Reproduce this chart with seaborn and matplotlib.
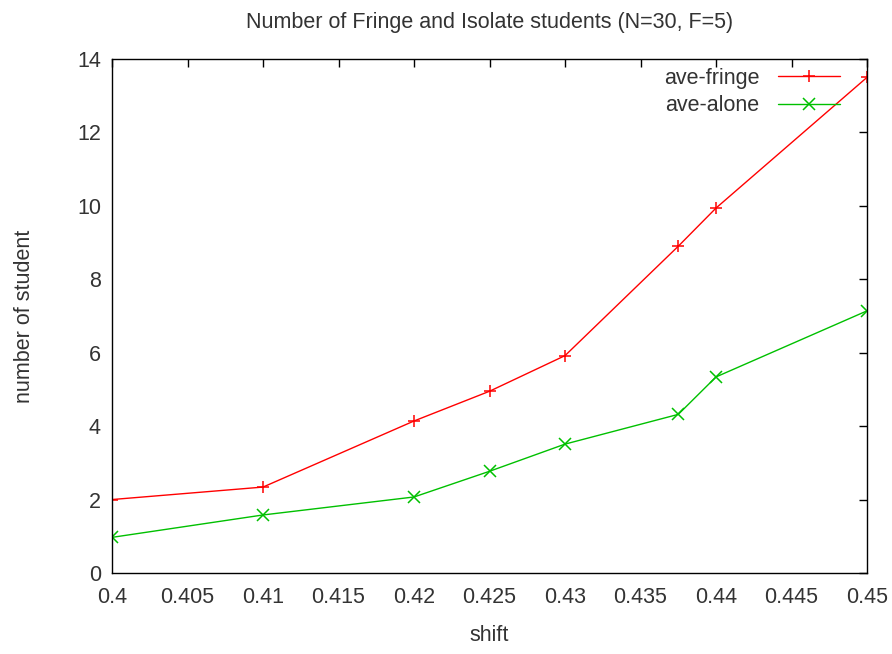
import numpy as np
import pandas as pd
import matplotlib
matplotlib.use("Agg")
import matplotlib.pyplot as plt
import seaborn as sns

shift = [0.4, 0.41, 0.42, 0.425, 0.43, 0.4375, 0.44, 0.45]
ave_fringe = [2.0, 2.34, 4.14, 4.95, 5.92, 8.9, 9.94, 13.5]
ave_alone = [0.97, 1.58, 2.07, 2.77, 3.51, 4.32, 5.34, 7.14]

df = pd.DataFrame({"shift": shift * 2,
                   "value": ave_fringe + ave_alone,
                   "series": ["ave-fringe"] * len(shift) + ["ave-alone"] * len(shift)})

sns.set_style("white")
plt.rcParams['font.family'] = ['Liberation Sans', 'DejaVu Sans']
txt = "#333333"

fig = plt.figure(figsize=(8.92, 6.54), dpi=100)
ax = fig.add_axes([0.1256, 0.1239, 0.972 - 0.1256, 0.9098 - 0.1239])

sns.lineplot(data=df, x="shift", y="value", hue="series", style="series",
             palette={"ave-fringe": "#ff0000", "ave-alone": "#00c000"},
             markers={"ave-fringe": "+", "ave-alone": "x"},
             dashes=False, linewidth=1, markersize=8, legend=False,
             ax=ax)
for ln in ax.lines:
    ln.set_markeredgecolor(ln.get_color())
    ln.set_markeredgewidth(1.1)

ax.set_xlim(0.4, 0.45)
ax.set_ylim(0, 14)
ax.set_xticks(np.arange(0.4, 0.4501, 0.005))
ax.set_xticklabels(["0.4", "0.405", "0.41", "0.415", "0.42", "0.425",
                    "0.43", "0.435", "0.44", "0.445", "0.45"])
ax.set_yticks(range(0, 15, 2))
ax.tick_params(direction="in", length=6, width=1, top=True, right=True,
               labelsize=15.5, pad=8, color="black", labelcolor=txt)
ax.tick_params(axis="x", pad=10)
for s in ax.spines.values():
    s.set_color("black")
    s.set_linewidth(1)

ax.set_xlabel("shift", fontsize=15.5, labelpad=12, color=txt)
ax.set_ylabel("number of student", fontsize=15.5, labelpad=30, color=txt)
ax.set_title("Number of Fringe and Isolate students (N=30, F=5)", fontsize=15.5,
             pad=22, color=txt)

leg = ax.legend(handles=ax.lines[:2], labels=["ave-fringe", "ave-alone"],
                loc="upper right", bbox_to_anchor=(1 - 18 / 755, 1.0),
                frameon=False, markerfirst=False, fontsize=15.5,
                handlelength=2.9, handletextpad=0.85, borderaxespad=0,
                labelspacing=0.32)
for t in leg.get_texts():
    t.set_color(txt)

fig.savefig("out.png", dpi=100)
